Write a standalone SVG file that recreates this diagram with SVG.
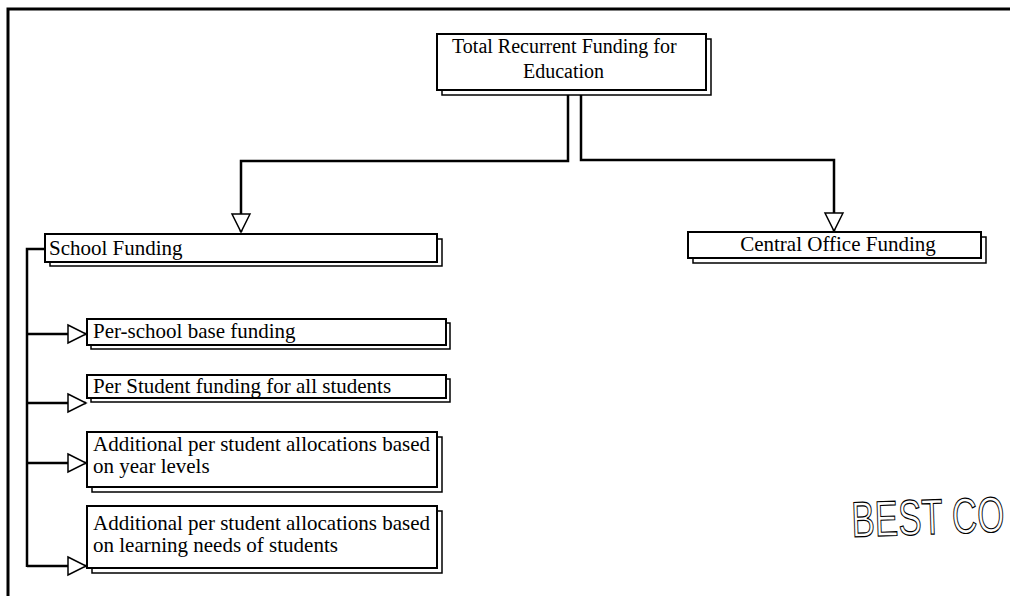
<svg xmlns="http://www.w3.org/2000/svg" width="1010" height="596" viewBox="0 0 1010 596">
<style>
.box{fill:#fff;stroke:#000;stroke-width:2}
.sh{fill:none;stroke:#000;stroke-width:1.5}
.t{font-family:"Liberation Serif","Times New Roman",serif;font-size:21px;fill:#000}
.c{fill:none;stroke:#000;stroke-width:2.5}
</style>
<defs>
<marker id="arr" markerUnits="userSpaceOnUse" markerWidth="22" markerHeight="22" refX="18" refY="9" orient="auto" overflow="visible">
<path d="M0,0 L18,9 L0,18 Z" fill="#fff" stroke="#000" stroke-width="1.5"/>
</marker>
</defs>
<rect width="1010" height="596" fill="#fff"/>
<path d="M8,596 V9 H1010" fill="none" stroke="#000" stroke-width="3"/>
<g id="connectors">
<path class="c" d="M568,95 V161 H241 V232" marker-end="url(#arr)"/>
<path class="c" d="M581,95 V160 H834 V231" marker-end="url(#arr)"/>
<path class="c" d="M45,249 H27 V567"/>
<path class="c" d="M27,334 H86" marker-end="url(#arr)"/>
<path class="c" d="M27,403 H86" marker-end="url(#arr)"/>
<path class="c" d="M27,463 H86" marker-end="url(#arr)"/>
<path class="c" d="M27,566 H86" marker-end="url(#arr)"/>
</g>
<g id="total">
<path class="sh" d="M706,39 H711 V95 H442 V90"/>
<rect class="box" x="437" y="34" width="269" height="56"/>
<text class="t" x="452" y="53" style="font-size:20px">Total Recurrent Funding for</text>
<text class="t" x="523" y="78" style="font-size:20px">Education</text>
</g>
<g id="school">
<path class="sh" d="M437,239 H442 V266 H50 V262"/>
<rect class="box" x="45" y="234" width="392" height="28"/>
<text class="t" x="49" y="255">School Funding</text>
</g>
<g id="central">
<path class="sh" d="M981,237 H986 V263 H693 V258"/>
<rect class="box" x="688" y="232" width="293" height="26"/>
<text class="t" x="838" y="251" text-anchor="middle">Central Office Funding</text>
</g>
<g id="perschool">
<path class="sh" d="M446,323 H450 V349 H91 V345"/>
<rect class="box" x="87" y="319" width="359" height="26"/>
<text class="t" x="93" y="338">Per-school base funding</text>
</g>
<g id="perstudent">
<path class="sh" d="M446,379 H450 V402 H91 V398"/>
<rect class="box" x="87" y="375" width="359" height="23"/>
<text class="t" x="93" y="393">Per Student funding for all students</text>
</g>
<g id="yearlevels">
<path class="sh" d="M437,437 H442 V492 H92 V487"/>
<rect class="box" x="87" y="432" width="350" height="55"/>
<text class="t" x="93" y="451">Additional per student allocations based</text>
<text class="t" x="93" y="473">on year levels</text>
</g>
<g id="learningneeds">
<path class="sh" d="M437,511 H442 V573 H92 V568"/>
<rect class="box" x="87" y="506" width="350" height="62"/>
<text class="t" x="93" y="530">Additional per student allocations based</text>
<text class="t" x="93" y="552">on learning needs of students</text>
</g>
<g id="stamp" transform="rotate(-2 852 537)">
<text x="0" y="0" transform="translate(852 537) scale(0.7 1)" style="font-family:'Liberation Sans',Arial,sans-serif;font-size:50px;fill:#fff;stroke:#000;stroke-width:1.2">BEST CO</text>
</g>
</svg>
